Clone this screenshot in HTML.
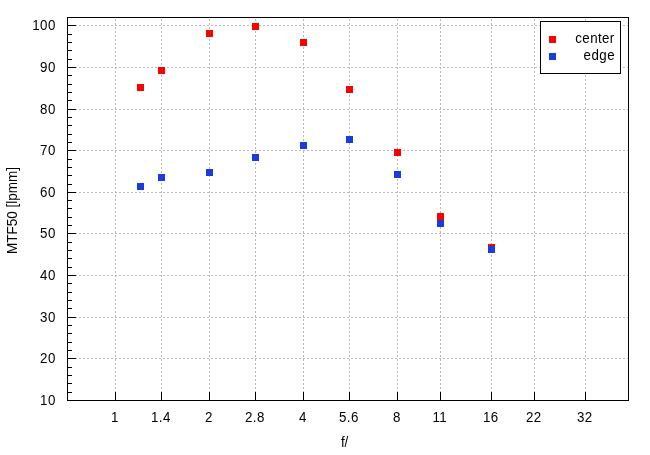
<!DOCTYPE html>
<html lang="en">
<head>
<meta charset="utf-8">
<title>MTF50 chart</title>
<style>
html,body{margin:0;padding:0;background:#fff;}
body{width:650px;height:455px;overflow:hidden;}
svg{display:block;}
text{font-family:"Liberation Sans",sans-serif;font-size:13.33px;fill:#000;}
.g{stroke:#bababa;stroke-width:1;stroke-dasharray:2 2;fill:none;}
.k{stroke:#000;stroke-width:1;fill:none;}
.r{fill:#ff0000;}
.b{fill:#1a3ae2;}
</style>
</head>
<body>
<svg width="650" height="455" viewBox="0 0 650 455">
<rect x="0" y="0" width="650" height="455" fill="#ffffff"/>
<g shape-rendering="crispEdges">
<line class="g" x1="67" y1="358.5" x2="629" y2="358.5"/>
<line class="g" x1="67" y1="317.5" x2="629" y2="317.5"/>
<line class="g" x1="67" y1="275.5" x2="629" y2="275.5"/>
<line class="g" x1="67" y1="233.5" x2="629" y2="233.5"/>
<line class="g" x1="67" y1="192.5" x2="629" y2="192.5"/>
<line class="g" x1="67" y1="150.5" x2="629" y2="150.5"/>
<line class="g" x1="67" y1="109.5" x2="629" y2="109.5"/>
<line class="g" x1="67" y1="67.5" x2="629" y2="67.5"/>
<line class="g" x1="67" y1="25.5" x2="629" y2="25.5"/>
<line class="g" x1="115.5" y1="401" x2="115.5" y2="17"/>
<line class="g" x1="161.5" y1="401" x2="161.5" y2="17"/>
<line class="g" x1="209.5" y1="401" x2="209.5" y2="17"/>
<line class="g" x1="255.5" y1="401" x2="255.5" y2="17"/>
<line class="g" x1="303.5" y1="401" x2="303.5" y2="17"/>
<line class="g" x1="349.5" y1="401" x2="349.5" y2="17"/>
<line class="g" x1="397.5" y1="401" x2="397.5" y2="17"/>
<line class="g" x1="440.5" y1="401" x2="440.5" y2="17"/>
<line class="g" x1="491.5" y1="401" x2="491.5" y2="17"/>
<line class="g" x1="534.5" y1="401" x2="534.5" y2="17"/>
<line class="g" x1="585.5" y1="401" x2="585.5" y2="17"/>
<line class="k" x1="67" y1="400.5" x2="76" y2="400.5"/>
<line class="k" x1="67" y1="392.5" x2="72" y2="392.5"/>
<line class="k" x1="67" y1="383.5" x2="72" y2="383.5"/>
<line class="k" x1="67" y1="375.5" x2="72" y2="375.5"/>
<line class="k" x1="67" y1="367.5" x2="72" y2="367.5"/>
<line class="k" x1="67" y1="358.5" x2="76" y2="358.5"/>
<line class="k" x1="67" y1="350.5" x2="72" y2="350.5"/>
<line class="k" x1="67" y1="342.5" x2="72" y2="342.5"/>
<line class="k" x1="67" y1="333.5" x2="72" y2="333.5"/>
<line class="k" x1="67" y1="325.5" x2="72" y2="325.5"/>
<line class="k" x1="67" y1="317.5" x2="76" y2="317.5"/>
<line class="k" x1="67" y1="308.5" x2="72" y2="308.5"/>
<line class="k" x1="67" y1="300.5" x2="72" y2="300.5"/>
<line class="k" x1="67" y1="292.5" x2="72" y2="292.5"/>
<line class="k" x1="67" y1="283.5" x2="72" y2="283.5"/>
<line class="k" x1="67" y1="275.5" x2="76" y2="275.5"/>
<line class="k" x1="67" y1="267.5" x2="72" y2="267.5"/>
<line class="k" x1="67" y1="258.5" x2="72" y2="258.5"/>
<line class="k" x1="67" y1="250.5" x2="72" y2="250.5"/>
<line class="k" x1="67" y1="242.5" x2="72" y2="242.5"/>
<line class="k" x1="67" y1="233.5" x2="76" y2="233.5"/>
<line class="k" x1="67" y1="225.5" x2="72" y2="225.5"/>
<line class="k" x1="67" y1="217.5" x2="72" y2="217.5"/>
<line class="k" x1="67" y1="208.5" x2="72" y2="208.5"/>
<line class="k" x1="67" y1="200.5" x2="72" y2="200.5"/>
<line class="k" x1="67" y1="192.5" x2="76" y2="192.5"/>
<line class="k" x1="67" y1="184.5" x2="72" y2="184.5"/>
<line class="k" x1="67" y1="175.5" x2="72" y2="175.5"/>
<line class="k" x1="67" y1="167.5" x2="72" y2="167.5"/>
<line class="k" x1="67" y1="159.5" x2="72" y2="159.5"/>
<line class="k" x1="67" y1="150.5" x2="76" y2="150.5"/>
<line class="k" x1="67" y1="142.5" x2="72" y2="142.5"/>
<line class="k" x1="67" y1="134.5" x2="72" y2="134.5"/>
<line class="k" x1="67" y1="125.5" x2="72" y2="125.5"/>
<line class="k" x1="67" y1="117.5" x2="72" y2="117.5"/>
<line class="k" x1="67" y1="109.5" x2="76" y2="109.5"/>
<line class="k" x1="67" y1="100.5" x2="72" y2="100.5"/>
<line class="k" x1="67" y1="92.5" x2="72" y2="92.5"/>
<line class="k" x1="67" y1="84.5" x2="72" y2="84.5"/>
<line class="k" x1="67" y1="75.5" x2="72" y2="75.5"/>
<line class="k" x1="67" y1="67.5" x2="76" y2="67.5"/>
<line class="k" x1="67" y1="59.5" x2="72" y2="59.5"/>
<line class="k" x1="67" y1="50.5" x2="72" y2="50.5"/>
<line class="k" x1="67" y1="42.5" x2="72" y2="42.5"/>
<line class="k" x1="67" y1="34.5" x2="72" y2="34.5"/>
<line class="k" x1="67" y1="25.5" x2="76" y2="25.5"/>
<line class="k" x1="115.5" y1="401" x2="115.5" y2="392"/>
<line class="k" x1="161.5" y1="401" x2="161.5" y2="392"/>
<line class="k" x1="209.5" y1="401" x2="209.5" y2="392"/>
<line class="k" x1="255.5" y1="401" x2="255.5" y2="392"/>
<line class="k" x1="303.5" y1="401" x2="303.5" y2="392"/>
<line class="k" x1="349.5" y1="401" x2="349.5" y2="392"/>
<line class="k" x1="397.5" y1="401" x2="397.5" y2="392"/>
<line class="k" x1="440.5" y1="401" x2="440.5" y2="392"/>
<line class="k" x1="491.5" y1="401" x2="491.5" y2="392"/>
<line class="k" x1="534.5" y1="401" x2="534.5" y2="392"/>
<line class="k" x1="585.5" y1="401" x2="585.5" y2="392"/>
<rect class="k" x="67.5" y="17.5" width="561" height="383"/>
<rect x="540.5" y="21.5" width="80" height="52" fill="#fff" stroke="#000" stroke-width="1"/>
</g>
<g shape-rendering="crispEdges">
<rect class="r" x="137" y="84" width="7" height="7"/>
<rect class="r" x="158" y="67" width="7" height="7"/>
<rect class="r" x="206" y="30" width="7" height="7"/>
<rect class="r" x="252" y="23" width="7" height="7"/>
<rect class="r" x="300" y="39" width="7" height="7"/>
<rect class="r" x="346" y="86" width="7" height="7"/>
<rect class="r" x="394" y="149" width="7" height="7"/>
<rect class="r" x="437" y="213" width="7" height="7"/>
<rect class="r" x="488" y="244" width="7" height="7"/>
<rect class="r" x="549" y="36" width="7" height="7"/>
<rect class="b" x="137" y="183" width="7" height="7"/>
<rect class="b" x="158" y="174" width="7" height="7"/>
<rect class="b" x="206" y="169" width="7" height="7"/>
<rect class="b" x="252" y="154" width="7" height="7"/>
<rect class="b" x="300" y="142" width="7" height="7"/>
<rect class="b" x="346" y="136" width="7" height="7"/>
<rect class="b" x="394" y="171" width="7" height="7"/>
<rect class="b" x="437" y="220" width="7" height="7"/>
<rect class="b" x="488" y="246" width="7" height="7"/>
<rect class="b" x="549" y="53" width="7" height="7"/>
</g>
<text transform="translate(55.75,405.3) scale(1,1.09)" text-anchor="end" letter-spacing="0.45">10</text>
<text transform="translate(55.75,363.3) scale(1,1.09)" text-anchor="end" letter-spacing="0.45">20</text>
<text transform="translate(55.75,322.3) scale(1,1.09)" text-anchor="end" letter-spacing="0.45">30</text>
<text transform="translate(55.75,280.3) scale(1,1.09)" text-anchor="end" letter-spacing="0.45">40</text>
<text transform="translate(55.75,238.3) scale(1,1.09)" text-anchor="end" letter-spacing="0.45">50</text>
<text transform="translate(55.75,197.3) scale(1,1.09)" text-anchor="end" letter-spacing="0.45">60</text>
<text transform="translate(55.75,155.3) scale(1,1.09)" text-anchor="end" letter-spacing="0.45">70</text>
<text transform="translate(55.75,114.3) scale(1,1.09)" text-anchor="end" letter-spacing="0.45">80</text>
<text transform="translate(55.75,72.3) scale(1,1.09)" text-anchor="end" letter-spacing="0.45">90</text>
<text transform="translate(55.75,30.3) scale(1,1.09)" text-anchor="end" letter-spacing="0.45">100</text>
<text transform="translate(114.6,422.3) scale(1,1.09)" text-anchor="middle" letter-spacing="0">1</text>
<text transform="translate(160.825,422.3) scale(1,1.09)" text-anchor="middle" letter-spacing="0.45">1.4</text>
<text transform="translate(208.6,422.3) scale(1,1.09)" text-anchor="middle" letter-spacing="0">2</text>
<text transform="translate(254.825,422.3) scale(1,1.09)" text-anchor="middle" letter-spacing="0.45">2.8</text>
<text transform="translate(302.6,422.3) scale(1,1.09)" text-anchor="middle" letter-spacing="0">4</text>
<text transform="translate(348.82500000000005,422.3) scale(1,1.09)" text-anchor="middle" letter-spacing="0.45">5.6</text>
<text transform="translate(396.6,422.3) scale(1,1.09)" text-anchor="middle" letter-spacing="0">8</text>
<text transform="translate(439.82500000000005,422.3) scale(1,1.09)" text-anchor="middle" letter-spacing="0.45">11</text>
<text transform="translate(490.82500000000005,422.3) scale(1,1.09)" text-anchor="middle" letter-spacing="0.45">16</text>
<text transform="translate(533.825,422.3) scale(1,1.09)" text-anchor="middle" letter-spacing="0.45">22</text>
<text transform="translate(584.825,422.3) scale(1,1.09)" text-anchor="middle" letter-spacing="0.45">32</text>
<text transform="translate(344.4,446.8) scale(1,1.045)" text-anchor="middle" letter-spacing="-0.4">f/</text>
<text transform="translate(17,210.5) rotate(-90) scale(1,1.09)" text-anchor="middle" style="font-size:13.5px">MTF50 [lpmm]</text>
<text transform="translate(614.5,42.6) scale(1,1.09)" text-anchor="end" letter-spacing="0.35">center</text>
<text transform="translate(615.0,59.9) scale(1,1.09)" text-anchor="end" letter-spacing="0.45">edge</text>
</svg>
</body>
</html>
